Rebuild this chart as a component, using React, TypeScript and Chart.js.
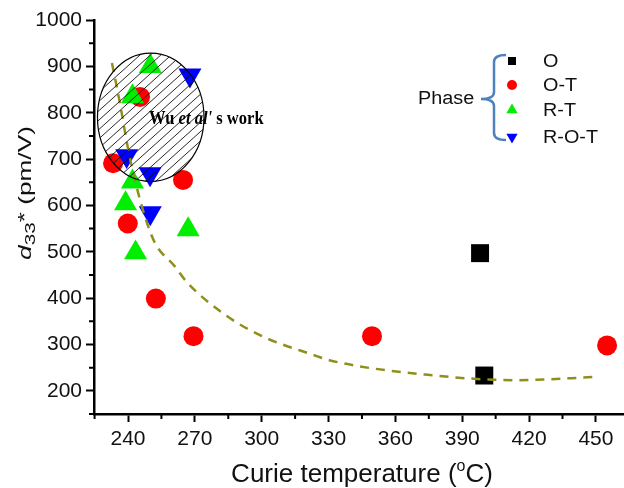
import React, { useEffect, useRef } from 'react';
import { Chart, registerables } from 'chart.js';

Chart.register(...registerables);

// ---- data ----
const O_T = [398, 399.9];
const O_V = [497, 233];
const OT_T = [233.3, 245.4, 264.7, 239.9, 252.5, 269.4, 349.5, 455];
const OT_V = [691, 834, 655, 561, 399, 318, 318, 298];
const RT_T = [250, 242, 242, 238.9, 243.4, 267];
const RT_V = [900, 835, 651, 604, 498, 548];
const ROT_T = [267.8, 239.4, 249.9, 250];
const ROT_V = [881, 707, 668, 584];
const FIT_T = [232.8, 236.4, 240.1, 243.1, 247.6, 252.1, 261.1, 266.3, 282.7, 299.2, 324.7, 330.3, 375.5, 414.4, 450.2];
const FIT_V = [907, 820, 720, 655, 576, 519, 468, 435, 367, 320, 275, 266, 234, 223, 230];

const X_TICKS = [240, 270, 300, 330, 360, 390, 420, 450];
const X_MINOR = [225, 255, 285, 315, 345, 375, 405, 435];
const Y_TICKS = [200, 300, 400, 500, 600, 700, 800, 900, 1000];
const Y_MINOR = [150, 250, 350, 450, 550, 650, 750, 850, 950];

const PHASES = ['O', 'O-T', 'R-T', 'R-O-T'];
const ELLIPSE_CENTER = [250.2, 790];
const ELLIPSE_RADII = [23.9, 138.5];
const NOTE_ANCHOR = [249.4, 775];

const SANS = '"Liberation Sans", Arial, sans-serif';
const SERIF = '"Liberation Serif", "Times New Roman", serif';
const OLIVE = '#8f8f1c';

const toPts = (xs: number[], ys: number[]) => xs.map((x, i) => ({ x, y: ys[i] }));

type Part = { t: string; font: string; dy?: number };

function drawParts(ctx: CanvasRenderingContext2D, parts: Part[], x: number, y: number, angle: number, sx: number, center: boolean) {
  ctx.save();
  ctx.translate(x, y);
  ctx.rotate(angle);
  ctx.scale(sx, 1);
  let total = 0;
  for (const p of parts) { ctx.font = p.font; total += ctx.measureText(p.t).width; }
  let cx = center ? -total / 2 : 0;
  ctx.textBaseline = 'alphabetic';
  ctx.textAlign = 'left';
  for (const p of parts) {
    ctx.font = p.font;
    ctx.fillText(p.t, cx, p.dy || 0);
    cx += ctx.measureText(p.t).width;
  }
  ctx.restore();
}

function marker(ctx: CanvasRenderingContext2D, kind: string, x: number, y: number, r: number, color: string) {
  ctx.save();
  ctx.fillStyle = color;
  ctx.beginPath();
  if (kind === 'rect') {
    ctx.rect(x - r, y - r, 2 * r, 2 * r);
  } else if (kind === 'circle') {
    ctx.arc(x, y, r, 0, Math.PI * 2);
  } else if (kind === 'up') {
    ctx.moveTo(x, y - r);
    ctx.lineTo(x + 0.866 * r, y + 0.5 * r);
    ctx.lineTo(x - 0.866 * r, y + 0.5 * r);
  } else {
    ctx.moveTo(x, y + r);
    ctx.lineTo(x + 0.866 * r, y - 0.5 * r);
    ctx.lineTo(x - 0.866 * r, y - 0.5 * r);
  }
  ctx.closePath();
  ctx.fill();
  ctx.restore();
}

const annotPlugin = {
  id: 'annot',
  afterDatasetsDraw(chart: any) {
    const { ctx, scales } = chart;
    const xs = scales.x, ys = scales.y;
    // hatched ellipse
    const cx = xs.getPixelForValue(ELLIPSE_CENTER[0]);
    const cy = ys.getPixelForValue(ELLIPSE_CENTER[1]);
    const rx = Math.abs(xs.getPixelForValue(ELLIPSE_CENTER[0] + ELLIPSE_RADII[0]) - cx);
    const ry = Math.abs(ys.getPixelForValue(ELLIPSE_CENTER[1] + ELLIPSE_RADII[1]) - cy);
    ctx.save();
    ctx.beginPath();
    ctx.ellipse(cx, cy, rx, ry, 0, 0, Math.PI * 2);
    ctx.clip();
    ctx.strokeStyle = '#111';
    ctx.lineWidth = 0.9;
    ctx.beginPath();
    const slope = 0.9;
    for (let k = -340; k <= 340; k += 10.4) {
      ctx.moveTo(cx + k - 200, cy + slope * 200);
      ctx.lineTo(cx + k + 200, cy - slope * 200);
    }
    ctx.stroke();
    ctx.restore();
    ctx.save();
    ctx.strokeStyle = '#000';
    ctx.lineWidth = 1.2;
    ctx.beginPath();
    ctx.ellipse(cx, cy, rx, ry, 0, 0, Math.PI * 2);
    ctx.stroke();
    ctx.restore();

    // note text
    ctx.save();
    ctx.fillStyle = '#000';
    drawParts(ctx, [
      { t: 'Wu ', font: `bold 18px ${SERIF}` },
      { t: "et al'", font: `italic bold 18px ${SERIF}` },
      { t: ' s work', font: `bold 18px ${SERIF}` },
    ], xs.getPixelForValue(NOTE_ANCHOR[0]), ys.getPixelForValue(NOTE_ANCHOR[1]), 0, 0.92, false);
    ctx.restore();
  },
  afterDraw(chart: any) {
    const { ctx, scales, chartArea } = chart;
    const xs = scales.x, ys = scales.y;
    ctx.save();
    ctx.strokeStyle = '#000';
    ctx.lineWidth = 2;
    ctx.beginPath();
    for (const v of X_MINOR) {
      const px = xs.getPixelForValue(v);
      ctx.moveTo(px, chartArea.bottom);
      ctx.lineTo(px, chartArea.bottom + 5);
    }
    for (const v of Y_MINOR) {
      const py = ys.getPixelForValue(v);
      ctx.moveTo(chartArea.left, py);
      ctx.lineTo(chartArea.left - 5, py);
    }
    ctx.stroke();
    ctx.restore();

    // axis titles
    ctx.save();
    ctx.fillStyle = '#111';
    drawParts(ctx, [
      { t: 'Curie temperature (', font: `26px ${SANS}` },
      { t: 'o', font: `16px ${SANS}`, dy: -11 },
      { t: 'C)', font: `26px ${SANS}` },
    ], 362, 482, 0, 1, true);
    drawParts(ctx, [
      { t: 'd', font: `italic 19px ${SANS}` },
      { t: '33', font: `15px ${SANS}`, dy: 4 },
      { t: '* (pm/V)', font: `19px ${SANS}` },
    ], 31, 193, -Math.PI / 2, 1.38, true);
    ctx.restore();

    // legend with brace
    ctx.save();
    const kinds = ['rect', 'circle', 'up', 'down'];
    const colors = ['#000000', '#ff0000', '#00ee00', '#0000ff'];
    const sizes = [4, 5, 6.5, 6.5];
    const rows = [61, 85, 110, 137];
    PHASES.forEach((p, i) => {
      marker(ctx, kinds[i], 512, rows[i], sizes[i], colors[i]);
      ctx.fillStyle = '#111';
      ctx.save();
      ctx.translate(543, rows[i]);
      ctx.scale(1.1, 1);
      ctx.font = `18px ${SANS}`;
      ctx.textBaseline = 'middle';
      ctx.textAlign = 'left';
      ctx.fillText(p, 0, 1);
      ctx.restore();
    });
    ctx.save();
    ctx.translate(418, 98);
    ctx.scale(1.1, 1);
    ctx.font = `18px ${SANS}`;
    ctx.textBaseline = 'middle';
    ctx.fillStyle = '#111';
    ctx.fillText('Phase', 0, 1);
    ctx.restore();
    ctx.strokeStyle = '#4f81bd';
    ctx.lineWidth = 2.5;
    ctx.beginPath();
    ctx.moveTo(506, 55);
    ctx.quadraticCurveTo(494, 55, 494, 62);
    ctx.lineTo(494, 92);
    ctx.quadraticCurveTo(494, 99, 481, 99);
    ctx.quadraticCurveTo(494, 99, 494, 106);
    ctx.lineTo(494, 133);
    ctx.quadraticCurveTo(494, 140, 506, 140);
    ctx.stroke();
    ctx.restore();
  },
};

export default function App() {
  const ref = useRef<HTMLCanvasElement>(null);
  useEffect(() => {
    if (!ref.current) return;
    const axisCommon = {
      type: 'linear' as const,
      border: { display: true, width: 2.5, color: '#000' },
      grid: { display: true, drawOnChartArea: false, drawTicks: true, tickLength: 8, tickWidth: 2, tickColor: '#000', color: '#000' },
    };
    const chart = new Chart(ref.current, {
      type: 'scatter',
      data: {
        datasets: [
          {
            label: 'fit', data: toPts(FIT_T, FIT_V), showLine: true, pointRadius: 0,
            borderColor: OLIVE, borderWidth: 2.5, borderDash: [9, 7], cubicInterpolationMode: 'monotone',
            fill: false, order: 0,
          } as any,
          {
            label: PHASES[3], data: toPts(ROT_T, ROT_V), pointStyle: 'triangle', rotation: 180,
            pointRadius: 13.3, backgroundColor: '#0000ff', borderColor: '#0000ff', borderWidth: 0, order: 1,
          } as any,
          {
            label: PHASES[2], data: toPts(RT_T, RT_V), pointStyle: 'triangle',
            pointRadius: 13.3, backgroundColor: '#00ee00', borderColor: '#00ee00', borderWidth: 0, order: 2,
          } as any,
          {
            label: PHASES[1], data: toPts(OT_T, OT_V), pointStyle: 'circle',
            pointRadius: 10, backgroundColor: '#ff0000', borderColor: '#ff0000', borderWidth: 0, order: 3,
          } as any,
          {
            label: PHASES[0], data: toPts(O_T, O_V), pointStyle: 'rect',
            pointRadius: 12.7, backgroundColor: '#000000', borderColor: '#000000', borderWidth: 0, order: 4,
          } as any,
        ],
      },
      options: {
        animation: false,
        responsive: false,
        devicePixelRatio: 1,
        layout: { autoPadding: false, padding: { left: 0, right: 0, top: 20, bottom: 0 } },
        plugins: { legend: { display: false }, tooltip: { enabled: false } },
        scales: {
          x: {
            ...axisCommon,
            position: 'bottom',
            min: 224.74,
            max: 462.6,
            afterBuildTicks: (s: any) => { s.ticks = X_TICKS.map((v) => ({ value: v })); },
            afterFit: (s: any) => { s.height = 74; s.paddingLeft = 0; s.paddingRight = 0; },
            ticks: { color: '#111', padding: 5, font: { family: SANS, size: 21 }, callback: (v: any) => String(v), maxRotation: 0, autoSkip: false },
          },
          y: {
            ...axisCommon,
            position: 'left',
            min: 150,
            max: 1000,
            afterBuildTicks: (s: any) => { s.ticks = Y_TICKS.map((v) => ({ value: v })); },
            afterFit: (s: any) => { s.width = 94; },
            ticks: { color: '#111', padding: 4, font: { family: SANS, size: 21 }, callback: (v: any) => String(v), autoSkip: false },
          },
        },
      } as any,
      plugins: [annotPlugin],
    });
    return () => chart.destroy();
  }, []);
  return (
    <div style={{ position: 'absolute', left: 0, top: 0, width: 624, height: 488, background: '#fff' }}>
      <canvas ref={ref} width={624} height={488} style={{ display: 'block', width: 624, height: 488 }} />
    </div>
  );
}
